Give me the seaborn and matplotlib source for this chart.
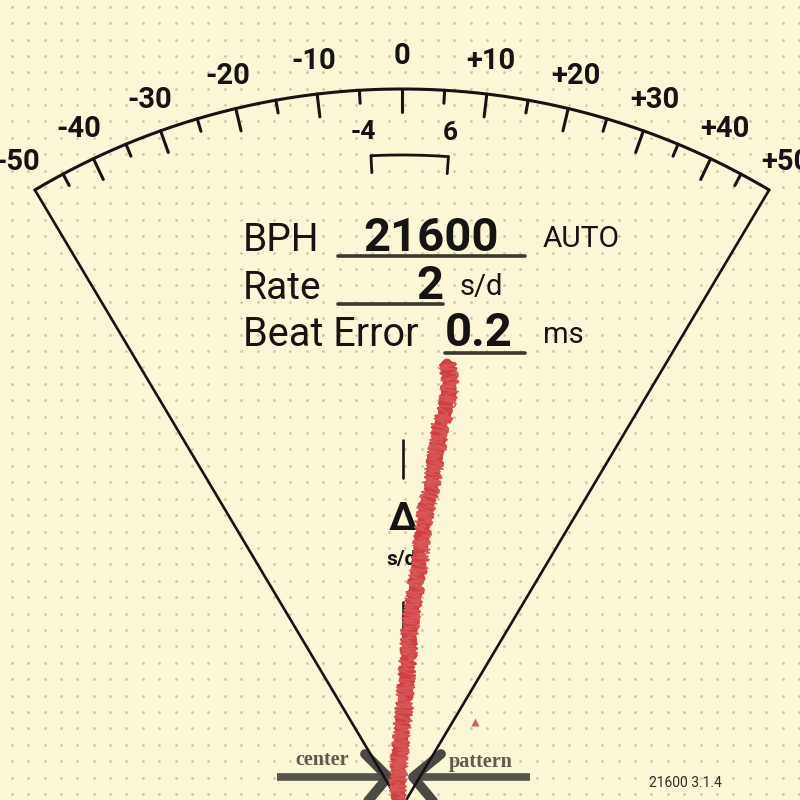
import numpy as np
import matplotlib
matplotlib.use("Agg")
import matplotlib.pyplot as plt
import seaborn as sns

# scale of the rate dial (s/d)
scale_ticks = list(range(-45, 50, 5))
scale_labels = [-50, -40, -30, -20, -10, 0, 10, 20, 30, 40, 50]
label_text = ["-50", "-40", "-30", "-20", "-10", "0", "+10", "+20", "+30", "+40", "+50"]
range_lo, range_hi = -4, 6

# readouts
bph = "21600"
rate = "2"
beat_error = "0.2"
version = "21600 3.1.4"

# trace, pixel coords (x, y from top)
trace_x = [447, 450, 449, 446, 440, 438, 435, 433, 430, 426, 423, 421, 420,
           417, 415, 412, 410, 409, 408, 406, 405, 403, 401, 399, 398, 397]
trace_y = [363, 380, 393, 410, 427, 445, 460, 478, 493, 510, 527, 545, 560,
           577, 593, 610, 627, 645, 660, 680, 700, 720, 740, 760, 780, 800]

BG = "#FBF6D6"
INK = "#161412"
PX, PY = 402, 807   # pivot of the fan
R = 718
K = 0.0119


def pos(v, r):
    a = np.arctan(v * K)
    return PX + r * np.sin(a), PY - r * np.cos(a)


sns.set_theme(style="white")
plt.rcParams['font.family'] = ['Roboto', 'DejaVu Sans']

fig = plt.figure(figsize=(8, 8), dpi=100, facecolor=BG)
ax = fig.add_axes([0, 0, 1, 1])
ax.set_facecolor(BG)
ax.set_xlim(0, 800)
ax.set_ylim(800, 0)
ax.axis('off')

# dotted paper
gx, gy = np.meshgrid(np.arange(11.7, 800, 16.4), np.arange(6.7, 800, 16.4))
sns.scatterplot(x=gx.ravel(), y=gy.ravel(), s=4, color="#CFC8A6", linewidth=0, ax=ax, zorder=1)

# fan lines and arc
for v in (-50, 50):
    ex, ey = pos(v, R)
    ax.plot([PX, ex], [PY, ey], color=INK, lw=1.9, zorder=3)
arc_v = np.linspace(-50, 50, 300)
ax.plot(*pos(arc_v, R), color=INK, lw=2.2, zorder=3)

# ticks
for v in scale_ticks:
    ln = 23 if v % 10 == 0 else 13
    x0, y0 = pos(v, R)
    x1, y1 = pos(v, R - ln)
    ax.plot([x0, x1], [y0, y1], color=INK, lw=2.2, zorder=3)

for v, t in zip(scale_labels, label_text):
    x, y = pos(v, 751)
    ax.text(x, y, t, fontsize=21, fontweight='bold', color=INK, ha='center', va='center')

# last-range bracket
for v in (range_lo, range_hi):
    x, y = pos(v, 676)
    ax.text(x - (6 if v < 0 else 0), y, str(v), fontsize=19, fontweight='bold',
            color=INK, ha='center', va='center')
bv = np.linspace(range_lo, range_hi, 30)
ax.plot(*pos(bv, 652), color=INK, lw=2.0, zorder=3)
for v in (range_lo, range_hi):
    x0, y0 = pos(v, 652)
    x1, y1 = pos(v, 635)
    ax.plot([x0, x1], [y0, y1], color=INK, lw=2.0, zorder=3)

# readout block
ax.text(243, 251, "BPH", fontsize=28, color=INK, ha='left', va='baseline')
ax.text(431, 251, bph, fontsize=34, fontweight='bold', color=INK, ha='center', va='baseline')
ax.text(543, 247, "AUTO", fontsize=21.5, color=INK, ha='left', va='baseline')
ax.text(243, 299, "Rate", fontsize=28, color=INK, ha='left', va='baseline')
ax.text(443, 299, rate, fontsize=34, fontweight='bold', color=INK, ha='right', va='baseline')
ax.text(460, 295, "s/d", fontsize=21, color=INK, ha='left', va='baseline')
ax.text(243, 346, "Beat Error", fontsize=28.5, color=INK, ha='left', va='baseline')
ax.text(479, 346, beat_error, fontsize=34, fontweight='bold', color=INK, ha='center', va='baseline')
ax.text(543, 343, "ms", fontsize=21, color=INK, ha='left', va='baseline')
for x0, x1, y in ((338, 525, 256), (338, 443, 304), (445, 525, 353)):
    ax.plot([x0, x1], [y, y], color="#3a372b", lw=2.6, zorder=3)

# centre marker
ax.plot([403, 403], [440, 478], color=INK, lw=1.9, zorder=3)
ax.plot([403, 403], [602, 800], color=INK, lw=1.9, zorder=3)
ax.text(403, 519, "Δ", fontsize=28, fontweight='bold', color=INK, ha='center', va='center')
ax.text(402, 560, "s/d", fontsize=15, fontweight='bold', color=INK, ha='center', va='center')

# center / pattern bars
grey = "#55544d"
ax.plot([277, 383], [777, 777], color=grey, lw=5.5, solid_capstyle='butt', zorder=2)
ax.plot([413, 530], [777, 777], color=grey, lw=5.5, solid_capstyle='butt', zorder=2)
ax.plot([365, 388, 368], [754, 777, 801], color="#4a4944", lw=7, zorder=2)
ax.plot([441, 413, 433], [754, 777, 801], color="#4a4944", lw=7, zorder=2)
ax.text(322, 760, "center", fontsize=14.5, fontweight='bold', family='Liberation Serif',
        color="#5c5b50", ha='center', va='center')
ax.text(481, 762, "pattern", fontsize=14.5, fontweight='bold', family='Liberation Serif',
        color="#5c5b50", ha='center', va='center')
ax.text(685, 783, version, fontsize=10, color="#2e2d28", ha='center', va='center')

# trace
red = "#D0413F"
sns.lineplot(x=trace_x, y=trace_y, sort=False, estimator=None, color=red, lw=6.5, ax=ax, zorder=5)
ax.lines[-1].set_sketch_params(scale=3, length=4, randomness=3)
sns.lineplot(x=trace_x, y=trace_y, sort=False, estimator=None, color=red, lw=2, ax=ax, zorder=5)
ax.lines[-1].set_sketch_params(scale=8, length=1.5, randomness=2)
sns.lineplot(x=trace_x, y=trace_y, sort=False, estimator=None, color="#D65656", lw=1.2, ax=ax, zorder=5)
ax.lines[-1].set_sketch_params(scale=9, length=1, randomness=2)
ax.plot([475], [722], marker='^', ms=6, color="#C9655E", mec='none', zorder=5)

fig.savefig("out.png", dpi=100, facecolor=BG)
